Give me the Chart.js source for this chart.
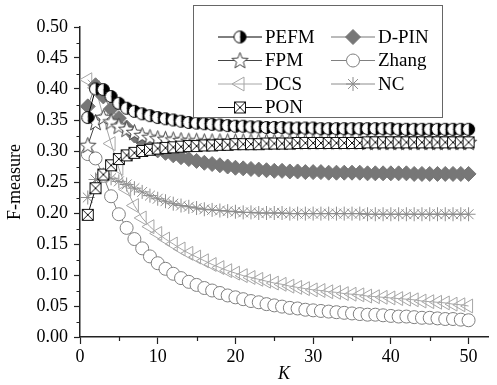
<!DOCTYPE html>
<html>
<head>
<meta charset="utf-8">
<script src="https://cdn.jsdelivr.net/npm/chart.js@4/dist/chart.umd.min.js"></script>
<style>
body { margin: 0; background: #fff; }
canvas { display: block; }
</style>
</head>
<body>
<canvas id="myChart" width="497" height="385"></canvas>
<script>
// K values (x axis)
var kValues = [1,2,3,4,5,6,7,8,9,10,11,12,13,14,15,16,17,18,19,20,21,22,23,24,25,
               26,27,28,29,30,31,32,33,34,35,36,37,38,39,40,41,42,43,44,45,46,47,48,49,50];

// F-measure
var pefm = [0.354,0.400,0.399,0.388,0.377,0.369,0.364,0.360,0.357,0.354,0.352,0.350,0.348,0.346,0.345,
            0.344,0.343,0.342,0.341,0.340,0.340,0.339,0.339,0.338,0.338,0.338,0.337,0.337,0.337,0.337,
            0.336,0.336,0.336,0.336,0.336,0.336,0.336,0.336,0.336,0.336,0.335,0.335,0.335,0.335,0.335,
            0.335,0.335,0.335,0.335,0.335];
var dpin = [0.372,0.406,0.388,0.368,0.353,0.338,0.325,0.315,0.307,0.301,0.297,0.293,0.290,0.287,0.284,
            0.281,0.279,0.277,0.275,0.273,0.272,0.271,0.270,0.269,0.268,0.268,0.267,0.267,0.266,0.266,
            0.266,0.265,0.265,0.265,0.265,0.265,0.264,0.264,0.264,0.264,0.264,0.264,0.263,0.263,0.263,
            0.263,0.263,0.263,0.263,0.263];
var fpm = [0.309,0.346,0.354,0.347,0.340,0.335,0.330,0.325,0.322,0.320,0.319,0.318,0.317,0.316,0.316,
           0.315,0.315,0.315,0.315,0.315,0.315,0.315,0.315,0.315,0.315,0.315,0.315,0.315,0.315,0.315,
           0.315,0.315,0.315,0.315,0.315,0.315,0.314,0.314,0.314,0.314,0.314,0.314,0.314,0.314,0.314,
           0.314,0.314,0.314,0.314,0.314];
var zhang = [0.295,0.288,0.260,0.227,0.198,0.176,0.158,0.143,0.130,0.119,0.110,0.102,0.095,0.089,0.084,
             0.079,0.075,0.071,0.067,0.064,0.061,0.058,0.056,0.053,0.051,0.049,0.047,0.046,0.044,0.043,
             0.042,0.041,0.040,0.039,0.038,0.037,0.036,0.036,0.035,0.034,0.033,0.033,0.032,0.031,0.031,
             0.030,0.029,0.029,0.028,0.027];
var dcs = [0.415,0.402,0.355,0.312,0.272,0.238,0.212,0.192,0.178,0.167,0.158,0.150,0.142,0.135,0.129,
           0.123,0.117,0.112,0.107,0.103,0.099,0.096,0.093,0.090,0.087,0.085,0.082,0.080,0.078,0.076,
           0.075,0.073,0.072,0.070,0.069,0.068,0.066,0.065,0.064,0.063,0.062,0.061,0.060,0.058,0.057,
           0.056,0.055,0.053,0.052,0.050];
var nc = [0.225,0.254,0.262,0.256,0.251,0.246,0.240,0.234,0.228,0.223,0.219,0.215,0.212,0.210,0.208,
          0.206,0.205,0.204,0.203,0.202,0.201,0.201,0.200,0.200,0.200,0.200,0.199,0.199,0.199,0.199,
          0.199,0.199,0.199,0.199,0.199,0.199,0.198,0.198,0.198,0.198,0.198,0.198,0.198,0.198,0.198,
          0.198,0.198,0.198,0.198,0.198];
var pon = [0.197,0.240,0.262,0.277,0.287,0.293,0.297,0.300,0.302,0.304,0.305,0.306,0.307,0.308,0.308,
           0.309,0.309,0.310,0.310,0.311,0.311,0.311,0.311,0.312,0.312,0.312,0.312,0.313,0.313,0.313,
           0.313,0.313,0.313,0.313,0.313,0.313,0.314,0.314,0.314,0.314,0.314,0.314,0.314,0.314,0.314,
           0.314,0.314,0.314,0.314,0.314];

var seriesNames = ["PEFM", "D-PIN", "FPM", "Zhang", "DCS", "NC", "PON"];
var xTickLabels = [0, 10, 20, 30, 40, 50];

// marker pictures
function halfCircle() {
    var c = document.createElement('canvas');
    c.width = 15; c.height = 15;
    var g = c.getContext('2d');
    g.beginPath(); g.arc(7.5, 7.5, 6, -Math.PI/2, Math.PI/2); g.closePath();
    g.fillStyle = '#000'; g.fill();
    g.beginPath(); g.arc(7.5, 7.5, 6, Math.PI/2, Math.PI*1.5); g.closePath();
    g.fillStyle = '#fff'; g.fill();
    g.beginPath(); g.arc(7.5, 7.5, 6, 0, Math.PI*2);
    g.strokeStyle = '#000'; g.lineWidth = 1; g.stroke();
    return c;
}
function openStar() {
    var c = document.createElement('canvas');
    c.width = 19; c.height = 19;
    var g = c.getContext('2d');
    g.beginPath();
    for (var i = 0; i < 10; i++) {
        var r = (i % 2 == 0) ? 8.5 : 3.6;
        var a = -Math.PI/2 + i * Math.PI/5;
        var px = 9.5 + r*Math.cos(a), py = 10 + r*Math.sin(a);
        if (i == 0) g.moveTo(px, py); else g.lineTo(px, py);
    }
    g.closePath();
    g.fillStyle = '#fff'; g.fill();
    g.strokeStyle = '#444'; g.lineWidth = 1; g.stroke();
    return c;
}
function crossSquare() {
    var c = document.createElement('canvas');
    c.width = 14; c.height = 14;
    var g = c.getContext('2d');
    g.fillStyle = '#fff'; g.fillRect(1.5, 1.5, 11, 11);
    g.strokeStyle = '#111'; g.lineWidth = 1;
    g.strokeRect(1.5, 1.5, 11, 11);
    g.beginPath();
    g.moveTo(1.5, 1.5); g.lineTo(12.5, 12.5);
    g.moveTo(12.5, 1.5); g.lineTo(1.5, 12.5);
    g.stroke();
    return c;
}

function pts(arr) {
    return arr.map(function(v, i) { return {x: kValues[i], y: v}; });
}

var styles = [
    {data: pefm, color: '#000', pointStyle: halfCircle(), radius: 6, bg: '#fff', rot: 0},
    {data: dpin, color: '#777', pointStyle: 'rectRot', radius: 7.5, bg: '#777', rot: 0},
    {data: fpm, color: '#444', pointStyle: openStar(), radius: 7, bg: '#fff', rot: 0},
    {data: zhang, color: '#808080', pointStyle: 'circle', radius: 6.5, bg: '#fff', rot: 0},
    {data: dcs, color: '#a6a6a6', pointStyle: 'triangle', radius: 8, bg: 'rgba(0,0,0,0)', rot: -90},
    {data: nc, color: '#8c8c8c', pointStyle: 'star', radius: 7, bg: 'rgba(0,0,0,0)', rot: 0},
    {data: pon, color: '#111', pointStyle: crossSquare(), radius: 6, bg: '#fff', rot: 0}
];
// drawing order: the first one ends up on top
var drawOrder = [1, 4, 2, 5, 6, 7, 0];

var datasets = styles.map(function(s, i) {
    return {
        label: seriesNames[i],
        data: pts(s.data),
        borderColor: s.color,
        borderWidth: 1,
        pointStyle: s.pointStyle,
        pointRadius: s.radius,
        pointRotation: s.rot,
        pointBackgroundColor: s.bg,
        pointBorderColor: s.color,
        pointBorderWidth: 1,
        pointHoverRadius: s.radius,
        tension: 0,
        order: drawOrder[i]
    };
});

var FONT = "'Liberation Serif', 'Times New Roman', serif";

// small ticks between the labelled ones
var minorTicks = {
    id: 'minorTicks',
    afterDraw: function(chart) {
        var ctx = chart.ctx;
        var xs = chart.scales.x, ys = chart.scales.y;
        var a = chart.chartArea;
        ctx.save();
        ctx.strokeStyle = '#222';
        ctx.lineWidth = 1.2;
        ctx.beginPath();
        for (var v = 0.025; v < 0.5; v += 0.05) {
            var y = Math.round(ys.getPixelForValue(v)) + 0.5;
            ctx.moveTo(a.left - 3.5, y); ctx.lineTo(a.left, y);
        }
        for (var k = 5; k < 52; k += 10) {
            var x = Math.round(xs.getPixelForValue(k)) + 0.5;
            ctx.moveTo(x, a.bottom); ctx.lineTo(x, a.bottom + 4);
        }
        ctx.stroke();
        ctx.restore();
    }
};

// legend box in two columns
var boxLegend = {
    id: 'boxLegend',
    afterDraw: function(chart) {
        var ctx = chart.ctx;
        ctx.save();
        ctx.fillStyle = '#fff';
        ctx.fillRect(193.5, 5.5, 249, 112);
        ctx.strokeStyle = '#666';
        ctx.lineWidth = 1;
        ctx.strokeRect(193.5, 5.5, 249, 112);
        var cols = [{x0: 218, xm: 240, x1: 262, tx: 265}, {x0: 331, xm: 353, x1: 375, tx: 378}];
        var rows = [37, 60.5, 84, 107.5];
        chart.data.datasets.forEach(function(ds, i) {
            var c = cols[i % 2], y = rows[Math.floor(i / 2)];
            ctx.strokeStyle = ds.borderColor;
            ctx.lineWidth = 1;
            ctx.beginPath(); ctx.moveTo(c.x0, y); ctx.lineTo(c.x1, y); ctx.stroke();
            ctx.fillStyle = ds.pointBackgroundColor;
            ctx.strokeStyle = ds.pointBorderColor;
            Chart.helpers.drawPoint(ctx, {
                pointStyle: ds.pointStyle, rotation: ds.pointRotation,
                radius: ds.pointRadius, borderWidth: 1
            }, c.xm, y);
            ctx.fillStyle = '#000';
            ctx.font = "19px " + FONT;
            ctx.textBaseline = 'middle';
            ctx.textAlign = 'left';
            ctx.fillText(ds.label, c.tx, y + 1);
        });
        ctx.restore();
    }
};

var ctx = document.getElementById('myChart').getContext('2d');
var chart = new Chart(ctx, {
    type: 'line',
    data: { datasets: datasets },
    options: {
        responsive: false,
        animation: false,
        events: [],
        layout: { padding: { top: 27, right: 0, bottom: 0, left: 0 } },
        plugins: { legend: { display: false }, tooltip: { enabled: false } },
        scales: {
            x: {
                type: 'linear',
                min: 0,
                max: 52.5,
                afterFit: function(scale) { scale.height = 48; },
                afterBuildTicks: function(scale) {
                    scale.ticks = xTickLabels.map(function(v) { return {value: v}; });
                },
                ticks: {
                    color: '#000',
                    font: { family: FONT, size: 18 },
                    padding: 2,
                    maxRotation: 0,
                    autoSkip: false
                },
                grid: { drawOnChartArea: false, drawTicks: true, tickLength: 7, tickColor: '#222', tickWidth: 1.2 },
                border: { display: true, color: '#222', width: 1.5 },
                title: {
                    display: true, text: 'K', color: '#000',
                    font: { family: FONT, size: 18, style: 'italic' },
                    padding: { top: 0, bottom: 0 }
                }
            },
            y: {
                min: 0,
                max: 0.5,
                afterFit: function(scale) { scale.width = 80; },
                ticks: {
                    stepSize: 0.05,
                    color: '#000',
                    font: { family: FONT, size: 18 },
                    padding: 6,
                    callback: function(v) { return v.toFixed(2); }
                },
                grid: { drawOnChartArea: false, drawTicks: true, tickLength: 6, tickColor: '#222', tickWidth: 1.2 },
                border: { display: true, color: '#222', width: 1.5 },
                title: {
                    display: true, text: 'F-measure', color: '#000',
                    font: { family: FONT, size: 18 },
                    padding: { top: 4, bottom: 0 }
                }
            }
        }
    },
    plugins: [minorTicks, boxLegend]
});
</script>
</body>
</html>
